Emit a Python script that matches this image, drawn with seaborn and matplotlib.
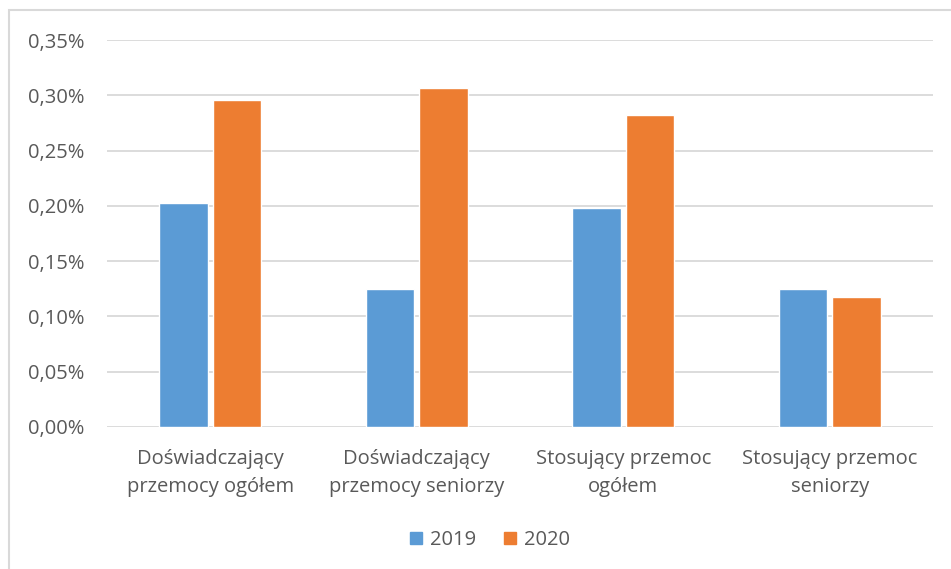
import pandas as pd
import matplotlib.pyplot as plt
import matplotlib.patches as patches
from matplotlib.ticker import FuncFormatter
import seaborn as sns

# dane (w procentach)
kategorie = ['Doświadczający\nprzemocy ogółem', 'Doświadczający\nprzemocy seniorzy',
             'Stosujący przemoc\nogółem', 'Stosujący przemoc\nseniorzy']
wartosci_2019 = [0.2025, 0.125, 0.198, 0.125]
wartosci_2020 = [0.296, 0.307, 0.282, 0.1175]
lata = ['2019', '2020']
kolory = ['#5B9BD5', '#ED7D31']

df = pd.DataFrame({
    'Kategoria': kategorie * 2,
    'Rok': [lata[0]] * 4 + [lata[1]] * 4,
    'Wartosc': wartosci_2019 + wartosci_2020,
})

sns.set_style('white')
plt.rcParams['font.family'] = ['Open Sans', 'DejaVu Sans']
szary = '#595959'
rozmiar = 14.5

fig = plt.figure(figsize=(9.51, 5.69), dpi=100)
ax = fig.add_axes([0.1125, 0.2496, 0.8685, 0.6801])

sns.barplot(data=df, x='Kategoria', y='Wartosc', hue='Rok', palette=kolory,
            width=0.52, gap=0.1, saturation=1, ax=ax, legend=False, zorder=3)

ax.set_ylim(0, 0.35)
ax.set_yticks([0, 0.05, 0.10, 0.15, 0.20, 0.25, 0.30, 0.35])
ax.yaxis.set_major_formatter(FuncFormatter(lambda v, p: f'{v:.2f}%'.replace('.', ',')))
ax.grid(axis='y', color='#D9D9D9', linewidth=1.3, zorder=0)
ax.set_axisbelow(True)
for s in ax.spines.values():
    s.set_visible(False)
ax.set_xlabel('')
ax.set_ylabel('')
ax.tick_params(axis='y', length=0, pad=16, labelsize=rozmiar, labelcolor=szary)
ax.tick_params(axis='x', length=0, pad=16, labelsize=rozmiar, labelcolor=szary)
for t in ax.get_xticklabels():
    t.set_linespacing(1.5)

# legenda
uchwyty = [patches.Patch(color=k) for k in kolory]
fig.legend(uchwyty, lata, loc='center', bbox_to_anchor=(490 / 951, 1 - 540 / 569),
           ncol=2, frameon=False, handlelength=0.6, handleheight=0.6,
           handletextpad=0.4, columnspacing=1.4, fontsize=rozmiar, labelcolor=szary)

# ramka wykresu
ramka = patches.Rectangle((9 / 951, -0.05), 1.1, 1 - 10 / 569 + 0.05, transform=fig.transFigure,
                          fill=False, edgecolor='#D9D9D9', linewidth=1.5, clip_on=False)
fig.patches.append(ramka)

plt.savefig('out.png', dpi=100)
plt.close()
